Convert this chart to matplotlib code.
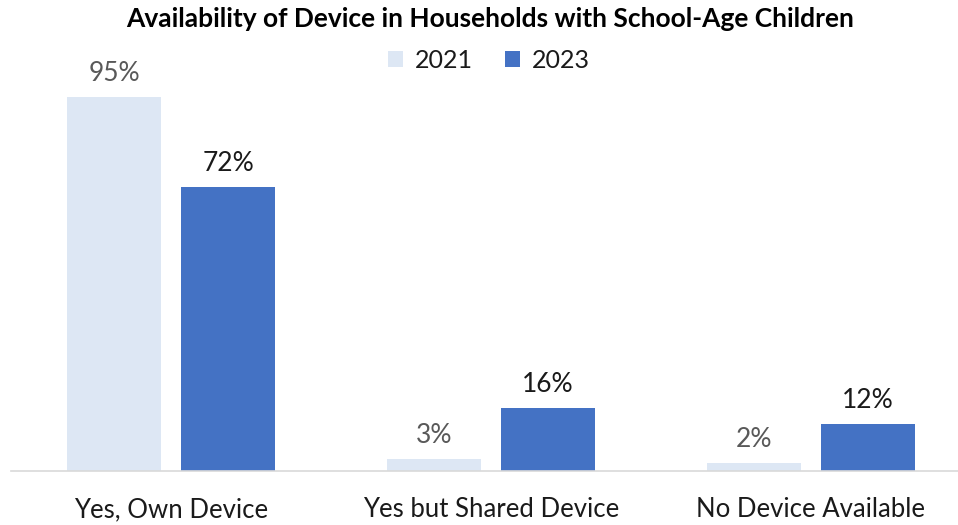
import matplotlib
matplotlib.use("Agg")
import matplotlib.pyplot as plt
import numpy as np

categories = ["Yes, Own Device", "Yes but Shared Device", "No Device Available"]
series_names = ["2021", "2023"]
values_2021 = [95, 3, 2]
values_2023 = [72, 16, 12]

plt.rcParams['font.family'] = ['Lato', 'DejaVu Sans']

fig = plt.figure(figsize=(9.58, 5.25), dpi=100)
ax = fig.add_axes([11/958, 54/525, (958-11)/958, 394/525])

x = np.arange(len(categories))
w = 94/320
off = 57/320
c1 = "#DDE7F4"
c2 = "#4472C4"
b1 = ax.bar(x - off, values_2021, w, color=c1, label=series_names[0])
b2 = ax.bar(x + off, values_2023, w, color=c2, label=series_names[1])

for xi, v in zip(x - off, values_2021):
    ax.annotate(f"{v}%", (xi, v), xytext=(0, 8), textcoords="offset points",
                ha="center", va="bottom", fontsize=19, color="#595959")
for xi, v in zip(x + off, values_2023):
    ax.annotate(f"{v}%", (xi, v), xytext=(0, 8), textcoords="offset points",
                ha="center", va="bottom", fontsize=19, color="#1a1a1a")

ax.set_xlim(-0.5, (958-171)/320)
ax.set_ylim(0, 100)
ax.set_xticks(x)
ax.set_xticklabels(categories, fontsize=18.5, color="#1a1a1a")
ax.tick_params(axis="x", length=0, pad=19)
ax.set_yticks([])
for s in ["top", "right", "left"]:
    ax.spines[s].set_visible(False)
ax.spines["bottom"].set_color("#D9D9D9")
ax.spines["bottom"].set_linewidth(1.2)

fig.text(490/958, 1 - 19/525, "Availability of Device in Households with School-Age Children",
         ha="center", va="center", fontsize=19, fontweight="bold", color="#000000")
leg = fig.legend(handles=[b1, b2], loc="center", bbox_to_anchor=(489/958, 1 - 60/525),
                 ncol=2, frameon=False, fontsize=18, handlelength=0.6, handleheight=0.6,
                 columnspacing=1.25, handletextpad=0.5, labelcolor="#1a1a1a")

fig.savefig("out.png", dpi=100)
